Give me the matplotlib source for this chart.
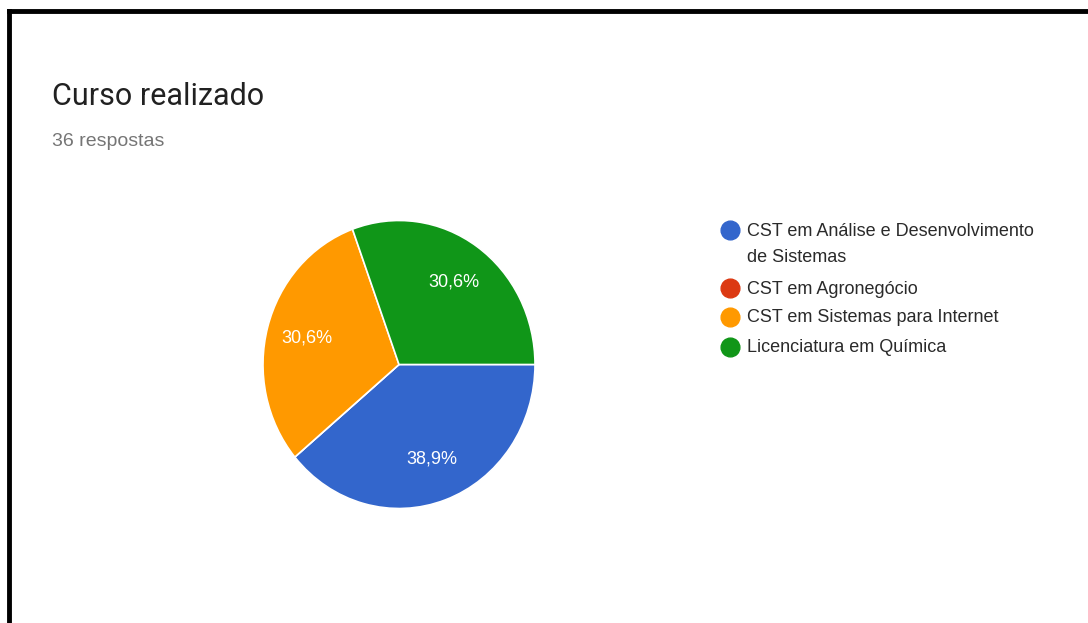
import matplotlib
matplotlib.use("Agg")
import matplotlib.pyplot as plt
from matplotlib.lines import Line2D

title = "Curso realizado"
subtitle = "36 respostas"
categories = ["CST em Análise e Desenvolvimento\nde Sistemas",
              "CST em Agronegócio",
              "CST em Sistemas para Internet",
              "Licenciatura em Química"]
counts = [14, 0, 11, 11]
colors = ["#3366cc", "#dc3912", "#ff9900", "#109618"]

W, H = 1088, 623
fig = plt.figure(figsize=(W / 100, H / 100), dpi=100)
fig.patch.set_facecolor("white")

# frame lines (top and left)
fig.add_artist(Line2D([9 / W, 1], [1 - 11 / H, 1 - 11 / H], color="black", lw=3.5))
fig.add_artist(Line2D([9 / W, 9 / W], [0, 1 - 11 / H], color="black", lw=3.5))

fig.text(52 / W, 1 - 105 / H, title, fontsize=22, family="Roboto", color="#212121",
         va="baseline", ha="left")
fig.text(52 / W, 1 - 146 / H, subtitle, fontsize=14, family="Liberation Sans", color="#757575",
         va="baseline", ha="left")

cx, cy, rx, ry = 399, 364.5, 136, 144
ax = fig.add_axes([(cx - rx) / W, 1 - (cy + ry) / H, 2 * rx / W, 2 * ry / H])

def fmt(p):
    return "" if p < 0.05 else f"{p:.1f}%".replace(".", ",")

wedges, texts, autotexts = ax.pie(counts, colors=colors, startangle=0, counterclock=False,
                                  autopct=fmt, pctdistance=0.70,
                                  wedgeprops=dict(edgecolor="white", linewidth=1.2),
                                  textprops=dict(color="white", fontsize=13, family="Liberation Sans"))
ax.set_xlim(-1, 1)
ax.set_ylim(-1, 1)
ax.set_aspect("auto")
ax.axis("off")

# legend
legend_y = [230, 288, 317, 347]
for lab, col, y in zip(categories, colors, legend_y):
    fig.add_artist(Line2D([730 / W], [1 - y / H], marker="o", markersize=13.5,
                          markerfacecolor=col, markeredgecolor=col, linestyle="none"))
    lines = lab.split("\n")
    for i, line in enumerate(lines):
        fig.text(747 / W, 1 - (y + 1 + 27 * i) / H, line, fontsize=13, family="Liberation Sans",
                 color="#2a2a2a", va="center", ha="left")

fig.savefig("out.png", dpi=100)
